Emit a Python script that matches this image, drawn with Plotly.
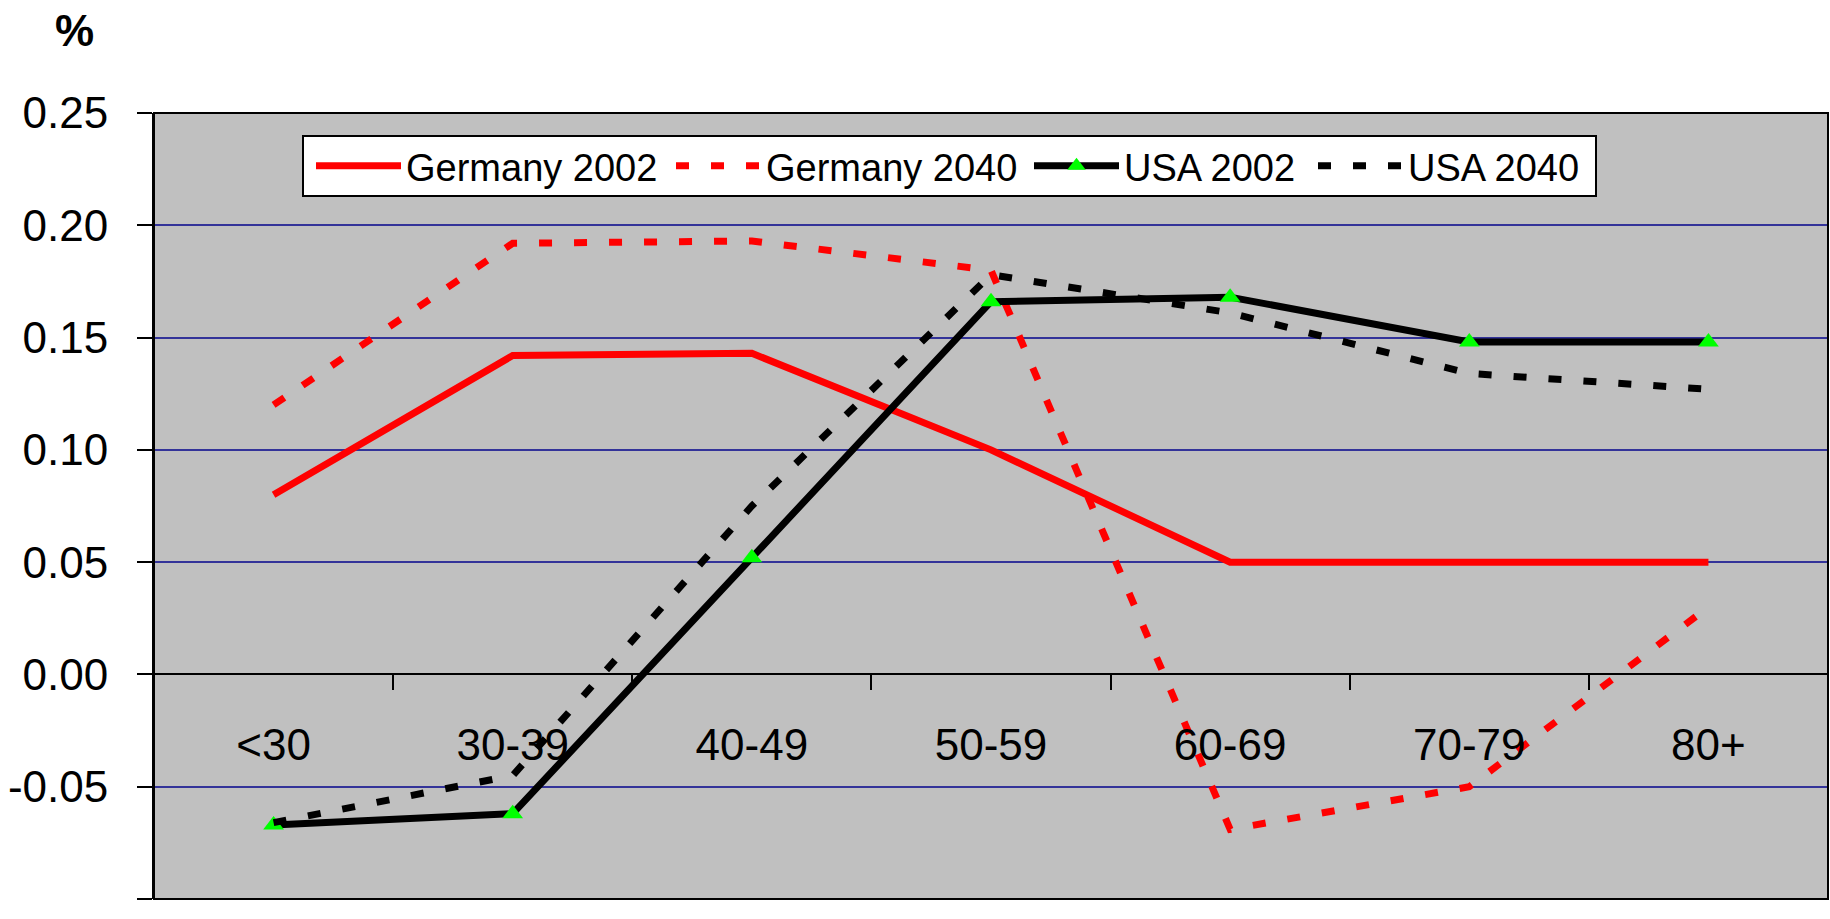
import plotly.graph_objects as go

# Age groups on the category axis
age_groups = ["<30", "30-39", "40-49", "50-59", "60-69", "70-79", "80+"]

# Series values (fractions, shown with the "%" axis heading)
germany_2002 = [0.080, 0.142, 0.143, 0.100, 0.050, 0.050, 0.050]
germany_2040 = [0.120, 0.192, 0.193, 0.180, -0.069, -0.050, 0.030]
usa_2002 = [-0.067, -0.062, 0.052, 0.166, 0.168, 0.148, 0.148]
usa_2040 = [-0.066, -0.045, 0.075, 0.178, 0.161, 0.134, 0.127]

# Value-axis ticks
y_tick_values = [0.25, 0.20, 0.15, 0.10, 0.05, 0.00, -0.05, -0.10]
y_tick_labels = ["0.25", "0.20", "0.15", "0.10", "0.05", "0.00", "-0.05", "-0.10"]

FONT = "Liberation Sans, Arial, sans-serif"
RED = "#FF0000"
BLACK = "#000000"
GREEN = "#00FF00"
DOTS = "13px,22px"
LINE_W = 7

W, H = 1830, 919
M_L, M_R, M_T, M_B = 154, 2, 113, 20
PLOT_W = W - M_L - M_R
PLOT_H = H - M_T - M_B

Y_MIN, Y_MAX = -0.10, 0.25


def px_x(px):
    """Horizontal page pixel -> paper fraction."""
    return (px - M_L) / PLOT_W


def px_y(py):
    """Vertical page pixel -> paper fraction."""
    return 1 - (py - M_T) / PLOT_H


fig = go.Figure()

fig.add_trace(go.Scatter(
    x=age_groups, y=germany_2002, name="Germany 2002", mode="lines",
    line=dict(color=RED, width=LINE_W), legend="legend",
))
fig.add_trace(go.Scatter(
    x=age_groups, y=germany_2040, name="Germany 2040", mode="lines",
    line=dict(color=RED, width=LINE_W, dash=DOTS), legend="legend2",
))
fig.add_trace(go.Scatter(
    x=age_groups, y=usa_2002, name="USA 2002", mode="lines+markers",
    line=dict(color=BLACK, width=LINE_W),
    marker=dict(symbol="triangle-up", size=18, color=GREEN, line=dict(width=0)),
    legend="legend3",
))
fig.add_trace(go.Scatter(
    x=age_groups, y=usa_2040, name="USA 2040", mode="lines",
    line=dict(color=BLACK, width=LINE_W, dash=DOTS), legend="legend4",
))


def legend_at(symbol_left_px):
    return dict(
        xref="paper", yref="paper",
        x=px_x(symbol_left_px - 10), xanchor="left",
        y=px_y(166), yanchor="middle",
        orientation="h", bgcolor="rgba(0,0,0,0)", borderwidth=0,
        itemwidth=85,
        font=dict(family=FONT, size=38, color=BLACK),
    )


zero_pos = (0 - Y_MIN) / (Y_MAX - Y_MIN)

fig.update_layout(
    template="none",
    width=W, height=H,
    margin=dict(l=M_L, r=M_R, t=M_T, b=M_B, autoexpand=False),
    paper_bgcolor="white",
    plot_bgcolor="#C0C0C0",
    font=dict(family=FONT, size=44, color=BLACK),
    showlegend=True,
    legend=legend_at(321),
    legend2=legend_at(681),
    legend3=legend_at(1039),
    legend4=legend_at(1323),
    xaxis=dict(
        type="category",
        categoryorder="array", categoryarray=age_groups,
        range=[-0.5, len(age_groups) - 0.5],
        anchor="free", position=zero_pos,
        showline=True, linecolor=BLACK, linewidth=2,
        ticks="outside", tickson="boundaries", ticklen=15, tickwidth=2, tickcolor=BLACK,
        showgrid=False, zeroline=False, automargin=False,
        tickfont=dict(family=FONT, size=44, color=BLACK),
        ticklabelstandoff=32,
    ),
    yaxis=dict(
        range=[Y_MIN, Y_MAX],
        tickvals=y_tick_values, ticktext=y_tick_labels,
        showgrid=True, gridcolor="#333399", gridwidth=2,
        zeroline=True, zerolinecolor=BLACK, zerolinewidth=2,
        showline=True, linecolor=BLACK, linewidth=2,
        ticks="outside", ticklen=15, tickwidth=2, tickcolor=BLACK,
        automargin=False,
        tickfont=dict(family=FONT, size=44, color=BLACK),
        ticklabelstandoff=20,
    ),
    shapes=[
        # plot-area frame
        dict(type="rect", xref="paper", yref="paper", x0=0, x1=1, y0=0, y1=1,
             line=dict(color=BLACK, width=2), fillcolor="rgba(0,0,0,0)", layer="above"),
        # legend frame
        dict(type="rect", xref="paper", yref="paper",
             x0=px_x(303), x1=px_x(1596), y0=px_y(196), y1=px_y(136),
             line=dict(color=BLACK, width=2), fillcolor="white", layer="above"),
    ],
    annotations=[
        dict(text="<b>%</b>", xref="paper", yref="paper",
             x=px_x(74), y=px_y(30), xanchor="center", yanchor="middle",
             showarrow=False, font=dict(family=FONT, size=44, color=BLACK)),
    ],
)

fig.write_html("out.html")
